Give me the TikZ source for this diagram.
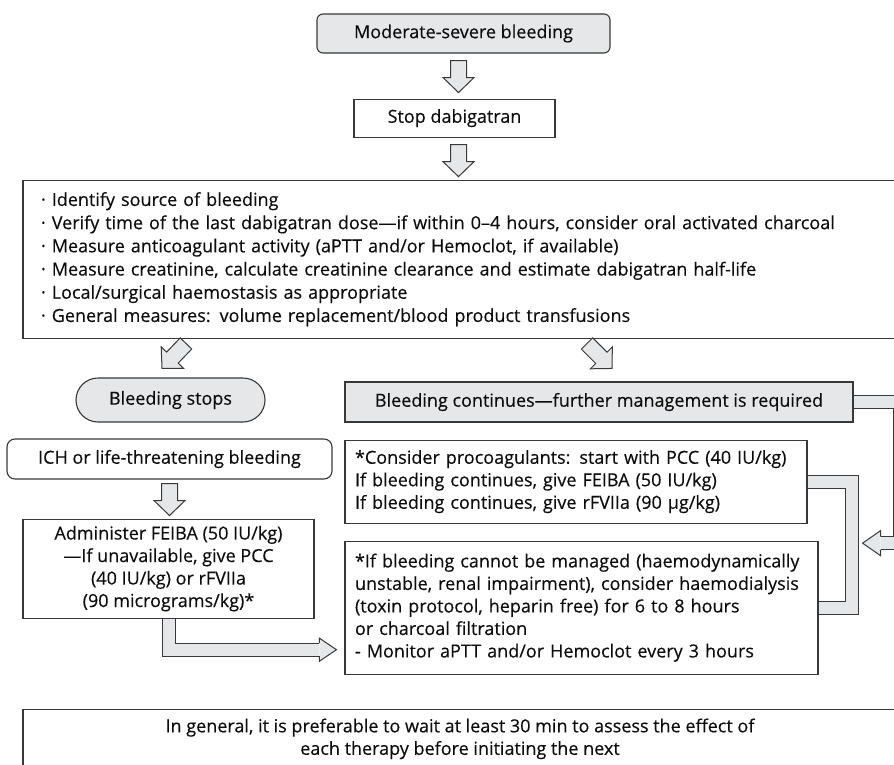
\documentclass[tikz,border=0pt]{standalone}
\usepackage{fontspec}
\setmainfont{Open Sans}[FakeBold=0.3]
\usepackage{tikz}
\usetikzlibrary{positioning,calc}

\definecolor{boxgrey}{HTML}{E6E7E8}
\definecolor{linegrey}{HTML}{383838}

% hollow block arrow from #1 (tail) to #2 (tip)
\newcommand{\blkarrow}[2]{%
  \coordinate (h) at ($(#2)!15pt!(#1)$);
  \filldraw[blk] ($(#1)!8pt!90:(#2)$) -- ($(h)!8pt!90:(#2)$) -- ($(h)!15.5pt!90:(#2)$)
    -- (#2) -- ($(h)!15.5pt!-90:(#2)$) -- ($(h)!8pt!-90:(#2)$)
    -- ($(#1)!8pt!-90:(#2)$) -- cycle;}

\begin{document}
\begin{tikzpicture}[
    x=1pt, y=-1pt,
    font=\fontsize{18}{22.5}\selectfont,
    box/.style={draw=linegrey, line width=1.1pt, inner sep=0pt, align=center,
                text=black!95},
    gbox/.style={box, fill=boxgrey},
    blk/.style={draw=linegrey, fill=boxgrey, line width=1pt, line join=miter},
    band/.style={draw=linegrey, double=boxgrey, double distance=12pt,
                 line width=1pt, line join=miter},
    head/.style={draw=linegrey, fill=boxgrey, line width=1pt, line join=miter},
  ]
  \useasboundingbox (0,0) rectangle (894,765);

  % top of the chart
  \node[gbox, rounded corners=6pt, minimum width=293pt, minimum height=39pt]
    (bleed) at (463.5,33.5) {Moderate-severe bleeding};
  \node[box, minimum width=201pt, minimum height=38pt, below=45pt of bleed,
        xshift=-9pt] (stop) {Stop dabigatran};
  \node[box, minimum width=874pt, minimum height=158pt, text width=838pt,
        inner xsep=18pt, align=left, font=\fontsize{18}{23.2}\selectfont,
        below=42pt of stop, xshift=5.5pt] (measures)
    {\textperiodcentered{} Identify source of bleeding\\
     \textperiodcentered{} Verify time of the last dabigatran dose—if within 0–4 hours, consider oral activated charcoal\\
     \textperiodcentered{} Measure anticoagulant activity (aPTT and/or Hemoclot, if available)\\
     \textperiodcentered{} Measure creatinine, calculate creatinine clearance and estimate dabigatran half-life\\
     \textperiodcentered{} Local/surgical haemostasis as appropriate\\
     \textperiodcentered{} General measures: volume replacement/blood product transfusions};

  % left branch
  \node[gbox, rounded corners=22pt, minimum width=189pt, minimum height=44pt]
    (stops) at (170.5,400) {Bleeding stops};
  \node[box, rounded corners=8pt, minimum width=325pt, minimum height=40pt]
    (ich) at (169.5,459) {ICH or life-threatening bleeding};
  \node[box, minimum width=291pt, minimum height=99pt, below=39pt of ich,
        xshift=-1pt] (admin)
    {Administer FEIBA (50 IU/kg)\\—If unavailable, give PCC\\(40 IU/kg) or rFVIIa\\(90 micrograms/kg)*};

  % right branch
  \node[gbox, minimum width=508pt, minimum height=40pt] (cont) at (599,402)
    {Bleeding continues—further management is required};
  \node[box, minimum height=83pt, text width=442pt, inner xsep=10pt, align=left,
        below=17pt of cont.south west, anchor=north west] (procoag)
    {*Consider procoagulants: start with PCC (40 IU/kg)\\
     If bleeding continues, give FEIBA (50 IU/kg)\\
     If bleeding continues, give rFVIIa (90 µg/kg)};
  \node[box, minimum height=133pt, text width=453pt, inner xsep=10pt, align=left,
        below=17pt of procoag.south west, anchor=north west] (dialysis)
    {*If bleeding cannot be managed (haemodynamically\\
     unstable, renal impairment), consider haemodialysis\\
     (toxin protocol, heparin free) for 6 to 8 hours\\
     or charcoal filtration\\
     - Monitor aPTT and/or Hemoclot every 3 hours};

  % note at the bottom
  \node[box, minimum width=874pt, inner ysep=9pt, text depth=40pt, anchor=north]
    (note) at (460,709)
    {In general, it is preferable to wait at least 30 min to assess the effect of\\
     each therapy before initiating the next};

  % block arrows
  \coordinate (a1s) at ([xshift=-5pt,yshift=-7pt]bleed.south);
  \coordinate (a1e) at ([xshift=4pt,yshift=6pt]stop.north);
  \coordinate (a2s) at ([xshift=4pt,yshift=-7pt]stop.south);
  \coordinate (a2e) at ([xshift=-1.5pt,yshift=3pt]measures.north);
  \coordinate (a3s) at ([yshift=-4pt]ich.south);
  \coordinate (a3e) at ([xshift=1pt,yshift=3pt]admin.north);
  \coordinate (a4s) at ([xshift=15.5pt,yshift=34pt]stops.north);
  \coordinate (a4e) at ([xshift=-8.5pt,yshift=9pt]stops.north);
  \coordinate (a5s) at ([xshift=-12pt,yshift=38pt]cont.north);
  \coordinate (a5e) at ([xshift=13pt,yshift=13pt]cont.north);
  \blkarrow{a1s}{a1e}
  \blkarrow{a2s}{a2e}
  \blkarrow{a3s}{a3e}
  \blkarrow{a4s}{a4e}
  \blkarrow{a5s}{a5e}

  % bent connectors
  \coordinate (tipR) at ([xshift=44pt,yshift=-2.5pt]dialysis.north east);
  \coordinate (tipL) at ([xshift=-8pt,yshift=-42pt]dialysis.west);
  \draw[band] ([xshift=0.5pt]cont.east) -| ([xshift=37pt]tipR) -- ([xshift=18pt]tipR);
  \filldraw[head] ([xshift=18pt,yshift=6.5pt]tipR) -- ([xshift=18pt,yshift=12.5pt]tipR)
    -- (tipR) -- ([xshift=18pt,yshift=-12.5pt]tipR) -- ([xshift=18pt,yshift=-6.5pt]tipR);
  \draw[band] ([xshift=0.5pt]procoag.east) -- ++(43.5,0) |- ([xshift=0.5pt]dialysis.east);
  \draw[band] ([yshift=-0.5pt]admin.south) |- ([xshift=-17pt]tipL);
  \filldraw[head] ([xshift=-17pt,yshift=6.5pt]tipL) -- ([xshift=-17pt,yshift=11.5pt]tipL)
    -- (tipL) -- ([xshift=-17pt,yshift=-11.5pt]tipL) -- ([xshift=-17pt,yshift=-6.5pt]tipL);
\end{tikzpicture}
\end{document}
